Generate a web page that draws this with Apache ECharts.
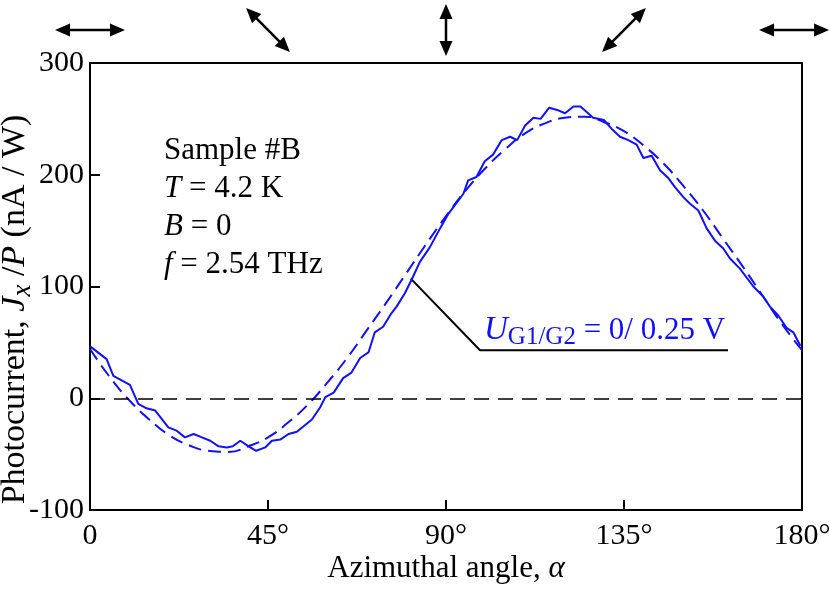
<!DOCTYPE html>
<html>
<head>
<meta charset="utf-8">
<script src="https://cdn.jsdelivr.net/npm/echarts@6/dist/echarts.min.js"></script>
<style>html,body{margin:0;padding:0;background:#fff;}#c{width:830px;height:591px;}</style>
</head>
<body>
<div id="c"></div>
<script>
// ---- data ----
var measAngle = [0.2,4.2,5.9,8.0,10.1,12.2,14.3,16.5,19.8,21.9,24.0,26.2,28.3,30.4,32.5,34.6,36.1,38.0,40.1,42.0,44.3,46.0,48.1,50.2,52.3,54.4,56.1,58.2,59.5,61.6,64.0,66.1,68.3,70.4,72.0,74.1,76.2,77.5,79.6,81.3,83.4,85.9,88.5,90.6,92.3,94.4,95.6,97.7,99.8,101.9,104.1,106.2,108.0,110.0,112.1,113.9,116.1,118.1,120.1,122.2,124.0,127.2,129.9,131.9,134.0,136.1,138.2,139.9,142.0,144.1,146.2,147.9,150.0,151.7,153.8,155.9,158.0,160.1,161.8,164.3,167.7,170.2,171.9,174.0,176.1,177.8,179.6];
var measValue = [46,35,20,16,12,-5,-9,-11,-26,-29,-35,-32,-35,-38,-43,-44,-43,-38,-43,-47,-44,-38,-37,-32,-30,-24,-19,-8,1,5,18,23,36,41,59,64,76,82,94,106,122,135,152,165,173,183,195,198,212,218,231,234,231,244,251,250,260,258,255,261,261,251,249,241,234,231,227,215,217,204,197,189,180,174,168,152,141,134,125,116,100,91,82,74,63,59,47];
var fitAngle = [0,5,10,15,20,25,30,35,40,45,50,55,60,65,70,75,80,85,90,95,100,105,110,115,120,125,130,135,140,145,150,155,160,165,170,175,180];
var fitValue = [44,19,-2,-19,-33,-42,-47,-48,-43,-35,-22,-6,14,36,61,86,112,138,163,186,206,223,237,246,251,252,247,239,226,210,190,168,143,118,92,66,43];
var xTicks = [0,45,90,135,180];
var yTicks = [-100,0,100,200,300];
// polarization arrows: position on the angle axis, arrow direction (deg)
var arrowPos = [0,45,90,135,178];
var arrowDir = [0,45,90,135,0];
// leader line from curve to label
var leaderAngle = [81.1,98.6,161.3];
var leaderValue = [107,43,43];

var serif = '"Liberation Serif","Times New Roman",serif';
var blue = '#1010ff';
function pairs(a,b){return a.map(function(v,i){return [v,b[i]];});}

var chart = echarts.init(document.getElementById('c'), null, {renderer:'canvas'});
var option = {
  animation:false,
  backgroundColor:'#fff',
  grid:{left:90,right:28,top:63,bottom:81,containLabel:false,outerBoundsMode:'none',
        show:true,borderColor:'#000',borderWidth:2,backgroundColor:'transparent'},
  xAxis:{
    type:'value',min:0,max:180,interval:45,
    axisLine:{show:true,onZero:false,lineStyle:{color:'#000',width:2}},
    axisTick:{show:true,inside:true,length:10,lineStyle:{color:'#000',width:2}},
    splitLine:{show:false},
    axisLabel:{color:'#000',fontFamily:serif,fontSize:30,margin:11,
      formatter:function(v){return v===0?'0':v+'\u00b0';}},
    name:'{n|Azimuthal angle, }{i|\u03b1}',nameLocation:'middle',nameGap:43,nameMoveOverlap:false,
    nameTextStyle:{color:'#000',fontFamily:serif,fontSize:31,
      rich:{n:{fontFamily:serif,fontSize:31,color:'#000'},i:{fontFamily:serif,fontSize:31,fontStyle:'italic',color:'#000'}}}
  },
  yAxis:{
    type:'value',min:-100,max:300,interval:100,
    axisLine:{show:true,onZero:false,lineStyle:{color:'#000',width:2}},
    axisTick:{show:true,inside:true,length:10,lineStyle:{color:'#000',width:2}},
    splitLine:{show:false},
    axisLabel:{color:'#000',fontFamily:serif,fontSize:30,margin:6},
    name:'{n|Photocurrent, }{i|J}{s|x}{n| /}{i|P}{n| (nA / W)}',nameLocation:'middle',nameGap:54,nameMoveOverlap:false,
    nameTextStyle:{color:'#000',fontFamily:serif,fontSize:34,padding:[0,46,0,0],
      rich:{n:{fontFamily:serif,fontSize:34,color:'#000'},
            i:{fontFamily:serif,fontSize:34,fontStyle:'italic',color:'#000'},
            s:{fontFamily:serif,fontSize:27,fontStyle:'italic',color:'#000',padding:[14,0,0,0]}}}
  },
  series:[
    {type:'line',name:'fit',data:pairs(fitAngle,fitValue),smooth:true,symbol:'none',
     lineStyle:{color:blue,width:2,type:[13,7]},z:3,
     markLine:{silent:true,symbol:'none',label:{show:false},
       lineStyle:{color:'#000',width:1.6,type:[15,9]},data:[{yAxis:0}]}},
    {type:'line',name:'measured',data:pairs(measAngle,measValue),symbol:'none',
     lineStyle:{color:blue,width:2},z:4},
    {type:'line',name:'leader',data:pairs(leaderAngle,leaderValue),symbol:'none',
     lineStyle:{color:'#000',width:2},z:2},
    {type:'custom',name:'arrows',clip:false,
     data:arrowPos.map(function(p,i){return [p,arrowDir[i]];}),
     encode:{x:0},
     renderItem:function(params,api){
       var p = api.coord([api.value(0),300]);
       var cx = p[0], cy = p[1]-33;
       var th = api.value(1)*Math.PI/180;
       var L = (api.value(1)===0)?70:(api.value(1)===90?52:62);
       var dx=Math.cos(th), dy=Math.sin(th);
       var h=15, w=6.5;
       var ax=cx-dx*L/2, ay=cy-dy*L/2, bx=cx+dx*L/2, by=cy+dy*L/2;
       var nx=-dy, ny=dx;
       function head(tx,ty,sx,sy){
         var bxx=tx+sx*h, byy=ty+sy*h;
         return {type:'polygon',shape:{points:[[tx,ty],[bxx+nx*w,byy+ny*w],[bxx-nx*w,byy-ny*w]]},style:{fill:'#000'}};
       }
       return {type:'group',children:[
         {type:'line',shape:{x1:ax+dx*8,y1:ay+dy*8,x2:bx-dx*8,y2:by-dy*8},style:{stroke:'#000',lineWidth:2.5}},
         head(ax,ay,dx,dy),
         head(bx,by,-dx,-dy)
       ]};
     }}
  ],
  graphic:[
    {type:'text',left:164,top:132,
     style:{text:'{n|Sample #B}\n{i|T}{n| = 4.2 K}\n{i|B}{n| = 0}\n{i|f}{n| = 2.54 THz}',
       fontFamily:serif,fontSize:31,lineHeight:38,fill:'#000',
       rich:{n:{fontFamily:serif,fontSize:31,lineHeight:38,fill:'#000'},
             i:{fontFamily:serif,fontSize:31,lineHeight:38,fontStyle:'italic',fill:'#000'}}}},
    {type:'text',left:484,top:314,
     style:{text:'{i|U}{s|G1/G2}{n| = 0/ 0.25 V}',fontFamily:serif,fontSize:31,fill:blue,
       rich:{i:{fontFamily:serif,fontSize:33,fontStyle:'italic',fill:blue},
             s:{fontFamily:serif,fontSize:25,fill:blue,padding:[14,0,0,0]},
             n:{fontFamily:serif,fontSize:31,fill:blue}}}}
  ]
};
chart.setOption(option);
</script>
</body>
</html>
